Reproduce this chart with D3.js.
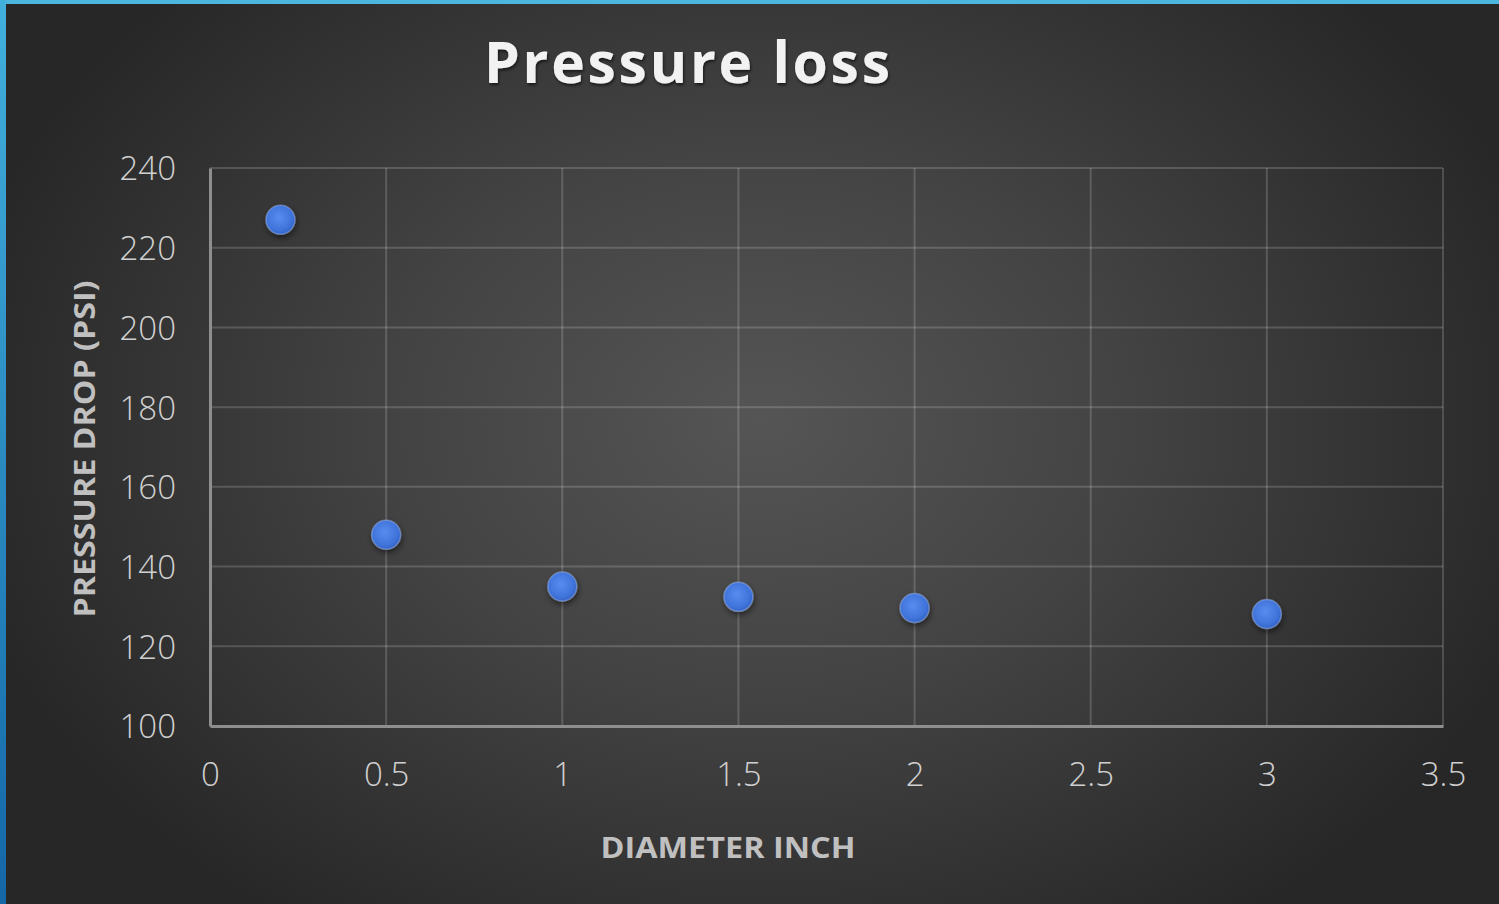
<!DOCTYPE html>
<html>
<head>
<meta charset="utf-8">
<script src="https://cdn.jsdelivr.net/npm/d3@7"></script>
<style>
  html, body { margin: 0; padding: 0; background: #2a2a2a; }
  svg { display: block; }
</style>
</head>
<body>
<svg id="chart" width="1499" height="904"></svg>
<script>
// Pressure drop measured against pipe diameter
const diameters = [0.2, 0.5, 1, 1.5, 2, 3];
const pressureDrop = [227, 148, 135, 132.4, 129.6, 128.1];
const xTicks = [0, 0.5, 1, 1.5, 2, 2.5, 3, 3.5];
const yTicks = [100, 120, 140, 160, 180, 200, 220, 240];
const chartTitle = "Pressure loss";
const xTitle = "DIAMETER INCH";
const yTitle = "PRESSURE DROP (PSI)";

const W = 1499, H = 904;
const svg = d3.select("#chart");
const defs = svg.append("defs");

// Dark radial backdrop
const bg = defs.append("radialGradient").attr("id", "bg")
  .attr("gradientUnits", "userSpaceOnUse")
  .attr("cx", 760).attr("cy", 420).attr("r", 820)
  .attr("gradientTransform", "translate(760,420) scale(1,0.75) translate(-760,-420)");
bg.append("stop").attr("offset", "0%").attr("stop-color", "#555555");
bg.append("stop").attr("offset", "45%").attr("stop-color", "#434343");
bg.append("stop").attr("offset", "100%").attr("stop-color", "#272727");

const leftBar = defs.append("linearGradient").attr("id", "leftBar")
  .attr("x1", 0).attr("y1", 0).attr("x2", 0).attr("y2", 1);
leftBar.append("stop").attr("offset", "0%").attr("stop-color", "#42b0dc");
leftBar.append("stop").attr("offset", "100%").attr("stop-color", "#1467a6");

const dot = defs.append("radialGradient").attr("id", "dot")
  .attr("cx", "45%").attr("cy", "42%").attr("r", "60%");
dot.append("stop").attr("offset", "0%").attr("stop-color", "#5a8cee");
dot.append("stop").attr("offset", "75%").attr("stop-color", "#3f73da");
dot.append("stop").attr("offset", "100%").attr("stop-color", "#3360c2");

const shadow = defs.append("filter").attr("id", "shadow")
  .attr("x", "-50%").attr("y", "-50%").attr("width", "200%").attr("height", "200%");
shadow.append("feDropShadow").attr("dx", 1).attr("dy", 3).attr("stdDeviation", 3)
  .attr("flood-color", "#000").attr("flood-opacity", 0.55);

const textShadow = defs.append("filter").attr("id", "textShadow")
  .attr("x", "-10%").attr("y", "-30%").attr("width", "120%").attr("height", "160%");
textShadow.append("feDropShadow").attr("dx", 1).attr("dy", 2).attr("stdDeviation", 1.5)
  .attr("flood-color", "#000").attr("flood-opacity", 0.6);

svg.append("rect").attr("width", W).attr("height", H).attr("fill", "url(#bg)");
svg.append("rect").attr("x", 0).attr("y", 0).attr("width", W).attr("height", 4).attr("fill", "#4db6de");
svg.append("rect").attr("x", 0).attr("y", 0).attr("width", 6).attr("height", H).attr("fill", "url(#leftBar)");

// Plot area
const plot = { left: 210, right: 1443, top: 168, bottom: 726 };
const x = d3.scaleLinear().domain([0, 3.5]).range([plot.left, plot.right]);
const y = d3.scaleLinear().domain([100, 240]).range([plot.bottom, plot.top]);

// Gridlines
const grid = svg.append("g").attr("stroke", "rgba(255,255,255,0.17)").attr("stroke-width", 2);
grid.selectAll(".gx").data(xTicks.slice(1)).join("line")
  .attr("x1", d => x(d)).attr("x2", d => x(d))
  .attr("y1", plot.top).attr("y2", plot.bottom);
grid.selectAll(".gy").data(yTicks.slice(1)).join("line")
  .attr("x1", plot.left).attr("x2", plot.right)
  .attr("y1", d => y(d)).attr("y2", d => y(d));

// Axes
const xAxis = d3.axisBottom(x).tickValues(xTicks).tickSize(0).tickPadding(34)
  .tickFormat(d => String(d));
const yAxis = d3.axisLeft(y).tickValues(yTicks).tickSize(0).tickPadding(34)
  .tickFormat(d => String(d));

const gx = svg.append("g").attr("transform", `translate(0,${plot.bottom})`).call(xAxis);
const gy = svg.append("g").attr("transform", `translate(${plot.left},0)`).call(yAxis);
[gx, gy].forEach(g => {
  g.select(".domain").attr("stroke", "#8e8e8e").attr("stroke-width", 3);
  g.selectAll("text")
    .attr("fill", "#d0d0d0")
    .attr("font-family", "'Open Sans', sans-serif")
    .attr("font-weight", 300)
    .attr("font-size", 33);
});
gx.selectAll("text").attr("dy", "0.71em").attr("y", 37);
gy.selectAll("text").attr("x", -34).attr("dy", "0.36em");

// Axis titles
svg.append("text")
  .attr("x", 728).attr("y", 858)
  .attr("text-anchor", "middle")
  .attr("fill", "#c0c0c0")
  .attr("font-family", "'Open Sans', sans-serif")
  .attr("font-weight", 700)
  .attr("font-size", 29)
  .attr("textLength", 255).attr("lengthAdjust", "spacingAndGlyphs")
  .text(xTitle);

svg.append("text")
  .attr("transform", "translate(95,449) rotate(-90)")
  .attr("text-anchor", "middle")
  .attr("fill", "#c0c0c0")
  .attr("font-family", "'Open Sans', sans-serif")
  .attr("font-weight", 700)
  .attr("font-size", 29)
  .attr("textLength", 337).attr("lengthAdjust", "spacingAndGlyphs")
  .text(yTitle);

// Chart title
svg.append("text")
  .attr("x", 687).attr("y", 83)
  .attr("text-anchor", "middle")
  .attr("fill", "#f2f2f2")
  .attr("filter", "url(#textShadow)")
  .attr("font-family", "'Open Sans', sans-serif")
  .attr("font-weight", 700)
  .attr("font-size", 57)
  .attr("textLength", 406).attr("lengthAdjust", "spacing")
  .text(chartTitle);

// Markers
const points = diameters.map((d, i) => ({ d, p: pressureDrop[i] }));
svg.append("g").selectAll("circle").data(points).join("circle")
  .attr("cx", v => x(v.d)).attr("cy", v => y(v.p))
  .attr("r", 14.5)
  .attr("fill", "url(#dot)")
  .attr("stroke", "rgba(170,195,250,0.4)")
  .attr("stroke-width", 1.5)
  .attr("filter", "url(#shadow)");
</script>
</body>
</html>
